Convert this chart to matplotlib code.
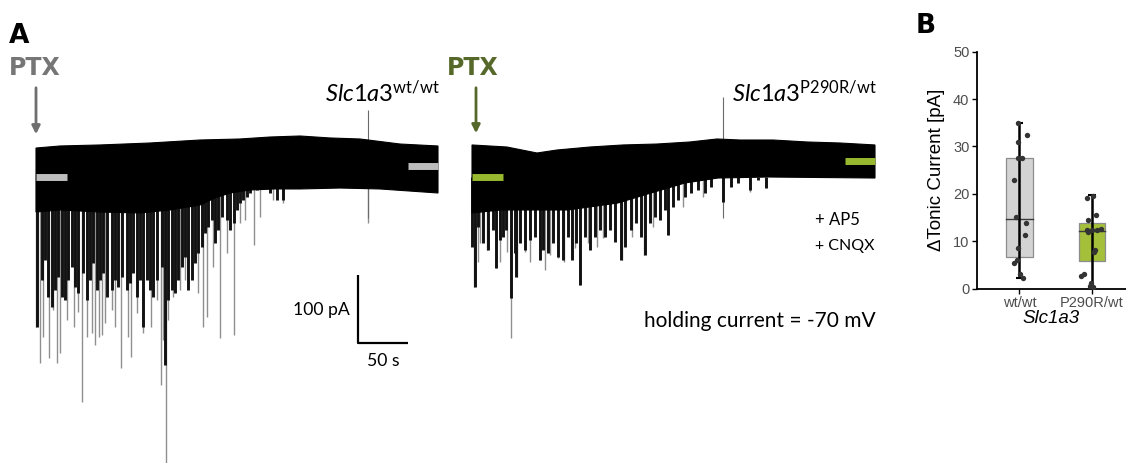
import numpy as np
import matplotlib.pyplot as plt

plt.rcParams['font.family'] = ['Lato', 'DejaVu Sans']
plt.rcParams['mathtext.fontset'] = 'custom'
plt.rcParams['mathtext.it'] = 'Lato:italic'
plt.rcParams['mathtext.rm'] = 'Lato'

# ---- panel A: traces (time in s, current in pA, 0 = holding level before PTX)
wt_top_t = [0, 24, 64, 114, 164, 204, 234, 264, 294, 324, 364, 402]
wt_top_i = [42.6, 45.6, 47.1, 50, 54.4, 55.9, 58.8, 60.3, 57.4, 55.9, 48.5, 45.6]
wt_low_t = [0, 24, 64, 104, 134, 164, 179, 194, 214, 239, 264, 304, 344, 402]
wt_low_i = [-51.5, -48.5, -51.5, -52.9, -48.5, -41.2, -30.9, -23.5, -19.1, -17.6,
            -17.6, -16.2, -17.6, -23.5]
# dense events right under the band
wt_dense_t = [0.7, 5.7, 9, 12.3, 15.7, 19, 22.3, 25.7, 29, 32.3, 35.7, 39, 42.3, 47.3,
              50.7, 54, 57.3, 60.7, 64, 67.3, 71.3, 75.7, 79, 82.3, 85.7, 90.7, 94, 97.3,
              100.7, 104, 107.3, 110.7, 114, 117.3, 120.7, 125.7, 129, 132.3, 135.7, 139,
              142.3, 145.7, 149, 152.3, 155.7, 159, 162.3, 165.7, 169, 172.3, 175.7, 179,
              182.3, 185.7, 190.7, 194, 198, 200.7, 204, 207.3, 210.7, 214, 220.7, 227.3,
              234, 240.7, 247.3]
wt_dense_i = [-220.1, -151.5, -122.1, -176, -190.7, -166.2, -146.6, -176, -180.9, -151.5,
              -131.9, -161.3, -171, -141.7, -180.9, -151.5, -127, -166.2, -151.5, -141.7,
              -176, -166.2, -151.5, -161.3, -146.6, -166.2, -156.4, -141.7, -176, -151.5,
              -220.1, -151.5, -166.2, -176, -151.5, -131.9, -276.5, -180.9, -166.2, -171,
              -151.5, -131.9, -117.2, -166.2, -151.5, -127, -112.3, -102.5, -82.8, -73,
              -63.2, -97.5, -77.9, -58.3, -63.2, -77.9, -68.1, -48.5, -38.7, -33.8, -28.9,
              -24, -19.1, -16.7, -24, -33.8, -33.8]
# long isolated events
wt_spike_t = [0, 4, 7, 13, 17, 21, 24, 31, 38, 42, 46, 51, 56, 59, 63, 66, 69, 76,
              79, 85, 92, 95, 101, 107, 115, 121, 125, 127, 130, 132, 137, 144, 149,
              156, 162, 167, 171, 177, 184, 191, 198, 204, 209, 218, 224, 237, 247, 332]
wt_spike_i = [-220.6, -273.5, -235.3, -266.2, -195.6, -273.5, -258.8, -210.3, -220.6,
              -198.5, -330.9, -235.3, -229.4, -247.1, -235.3, -232.4, -214.7, -195.6,
              -220.6, -280.9, -235.3, -264.7, -200, -229.4, -220.6, -180.9, -305.9,
              -239.7, -420.6, -210.3, -176.5, -166.2, -151.5, -117.6, -170.6, -220.6,
              -205.9, -132.4, -236.8, -111.8, -232.4, -67.6, -63.2, -100, -58.8,
              -33.8, -38.2, -67.6]
wt_artifact = (332, 98.5)
wt_level = [0, 16.2]          # mean current before / after PTX

mut_top_t = [0, 35, 65, 85, 118, 151, 185, 218, 245, 268, 301, 335, 368, 403]
mut_top_i = [47.1, 44.1, 35.3, 39.7, 44.1, 47.1, 48.5, 51.5, 55.9, 54.4, 54.4, 51.5, 50, 47.1]
mut_low_t = [0, 29, 63, 96, 146, 179, 213, 246, 296, 403]
mut_low_i = [-52.9, -48.5, -48.5, -48.5, -38.2, -23.5, -8.8, -1.5, 0, -1.5]
mut_dense_t = [0, 2.7, 6, 11, 16, 21, 24.3, 27.7, 31, 34.3, 38.7, 42.7, 44.3, 47.7, 52.7,
               57.7, 62.7, 67.7, 71, 76, 81, 86, 91, 96, 100, 104.3, 107.7, 112.7, 117.7,
               122.7, 127.7, 132.7, 137.7, 142.7, 149.3, 152.7, 159.3, 164.3, 169.3, 172.7,
               177.7, 182.7, 187.7, 192.7, 196, 201, 206, 212.7, 219.3, 226, 232.7, 239.3,
               251, 259.3, 266, 277.7, 286, 294.3]
mut_dense_i = [-102.5, -161.3, -73.1, -97.5, -107.4, -77.9, -134.3, -92.6, -87.7, -77.9,
               -178.4, -112.2, -146.6, -97.5, -107.4, -92.6, -87.7, -122.1, -107.4, -112.2,
               -97.5, -117.2, -122.1, -87.7, -122.1, -97.5, -158.8, -87.7, -107.4, -87.7,
               -77.9, -87.7, -77.9, -95.1, -122.1, -102.5, -77.9, -68.1, -87.7, -114.7,
               -68.1, -58.3, -63.2, -48.5, -85.3, -43.6, -33.8, -28.9, -24, -19.1, -24,
               -14.2, -36.3, -14.2, -9.3, -19.1, -4.4, -16.7]
mut_spike_t = [2, 6, 8, 15, 24, 28, 35, 39, 45, 53, 58, 68, 73, 78, 86, 92, 100, 103,
               108, 116, 125, 131, 150, 160, 172, 181, 196, 211, 231, 251, 278]
mut_spike_i = [-161.8, -125, -97.1, -107.4, -133.8, -125, -110.3, -236.8, -147.1,
               -110.3, -125, -122.1, -136.8, -114.7, -119.1, -125, -114.7, -104.4,
               -158.8, -97.1, -102.9, -89.7, -122.1, -88.2, -114.7, -73.5, -85.3,
               -44.1, -29.4, -36.8, -22.1]
mut_artifact = (251, 117.6)
mut_level = [0, 23.5]

# ---- panel B: delta tonic current
groups = ['wt/wt', 'P290R/wt']
wt_vals = [35.0, 32.4, 30.9, 27.6, 27.6, 22.9, 15.2, 13.8, 11.3, 8.5, 6.1, 5.4, 3.2, 2.2]
wt_jit = [-0.02, 0.10, -0.02, -0.02, 0.03, -0.08, -0.05, 0.09, 0.08, -0.02, -0.03, -0.08, 0.01, 0.05]
mut_vals = [19.1, 19.6, 14.5, 15.5, 12.4, 12.4, 12.4, 12.6, 12.0, 8.2, 7.8, 3.2, 2.7, 1.3, 0.6, 0.3]
mut_jit = [-0.07, 0.01, -0.06, 0.06, -0.07, 0.0, 0.07, 0.12, -0.06, 0.04, 0.03, -0.11, -0.15, -0.01, -0.03, 0.01]
q1 = [6.6, 5.8]
med = [14.6, 12.2]
q3 = [27.6, 13.8]
whis_lo = [2.2, 0.3]
whis_hi = [35.0, 19.8]
box_colors = ['#d3d3d3', '#a4c03b']

W, H = 1126, 463
fig = plt.figure(figsize=(W / 100, H / 100), dpi=100)


def px(x, y):
    return x / W, 1 - y / H


def draw_trace(ax, top_t, top_i, low_t, low_i, dn_t, dn_i, sp_t, sp_i, artifact, level, bar_col):
    ax.vlines(sp_t, 0, sp_i, color='#8f8f8f', lw=1.0, zorder=1)
    ax.vlines(artifact[0], -60, artifact[1], color='#6a6a6a', lw=0.8, zorder=1)
    ax.vlines(dn_t, 0, dn_i, color='#111111', lw=2.1, zorder=1.5)
    poly_t = list(top_t) + list(low_t[::-1])
    poly_i = list(top_i) + list(low_i[::-1])
    ax.fill(poly_t, poly_i, color='black', lw=0.8, zorder=2)
    end = top_t[-1]
    ax.plot([0, 31], [level[0]] * 2, color=bar_col, lw=5, solid_capstyle='butt', zorder=3)
    ax.plot([end - 30, end], [level[1]] * 2, color=bar_col, lw=5, solid_capstyle='butt', zorder=3)


ylim = (-420.6, 260.3)
ax1 = fig.add_axes([0, 0, 455 / W, 1])
ax1.set_xlim(-36, 419)
ax1.set_ylim(*ylim)
ax1.axis('off')
draw_trace(ax1, wt_top_t, wt_top_i, wt_low_t, wt_low_i, wt_dense_t, wt_dense_i,
           wt_spike_t, wt_spike_i, wt_artifact, wt_level, '#bdbdbd')
ax1.annotate('', xy=(0, 58.8), xytext=(0, 135.3),
             arrowprops=dict(arrowstyle='-|>', color='#6f6f6f', lw=2, mutation_scale=12))
# scale bar
ax1.plot([322, 322, 372], [-144.1, -244.1, -244.1], color='black', lw=1.6, solid_capstyle='butt')

ax2 = fig.add_axes([455 / W, 0, 445 / W, 1])
ax2.set_xlim(-17, 428)
ax2.set_ylim(*ylim)
ax2.axis('off')
draw_trace(ax2, mut_top_t, mut_top_i, mut_low_t, mut_low_i, mut_dense_t, mut_dense_i,
           mut_spike_t, mut_spike_i, mut_artifact, mut_level, '#98b82f')
ax2.annotate('', xy=(4, 60.3), xytext=(4, 135.3),
             arrowprops=dict(arrowstyle='-|>', color='#55682a', lw=2, mutation_scale=12))

bold = dict(family='DejaVu Sans', weight='bold')
fig.text(*px(9, 43), 'A', fontsize=19, va='baseline', **bold)
fig.text(*px(9, 75), 'PTX', fontsize=17, color='#767676', va='baseline', **bold)
fig.text(*px(447, 75), 'PTX', fontsize=17, color='#56692a', va='baseline', **bold)
fig.text(*px(916, 33), 'B', fontsize=19, va='baseline', **bold)

fig.text(*px(440, 102), r'$\mathit{Slc1a3}^{\mathrm{wt/wt}}$', fontsize=17, ha='right', va='baseline')
fig.text(*px(877, 102), r'$\mathit{Slc1a3}^{\mathrm{P290R/wt}}$', fontsize=17, ha='right', va='baseline')
fig.text(*px(815, 225), '+ AP5', fontsize=12, va='baseline')
fig.text(*px(815, 250), '+ CNQX', fontsize=11.5, va='baseline')
fig.text(*px(876, 327), 'holding current = -70 mV', fontsize=15, ha='right', va='baseline')
fig.text(*px(350, 315), '100 pA', fontsize=12.7, ha='right', va='baseline')
fig.text(*px(383, 366), '50 s', fontsize=12.7, ha='center', va='baseline')

# ---- panel B
axb = fig.add_axes([977 / W, 1 - 288.7 / H, 149 / W, (288.7 - 51.7) / H])
bw = 0.36
for k in range(2):
    axb.bar(k, q3[k] - q1[k], bottom=q1[k], width=bw, color=box_colors[k],
            edgecolor='#8c8c8c', lw=0.9, zorder=1)
    axb.plot([k - bw / 2, k + bw / 2], [med[k]] * 2, color='#3a3a3a', lw=1.0, zorder=2)
    axb.vlines(k, whis_lo[k], whis_hi[k], color='black', lw=1.8, zorder=3)
    axb.hlines([whis_lo[k], whis_hi[k]], k - 0.055, k + 0.055, color='black', lw=1.5, zorder=3)
axb.scatter(np.array(wt_jit), wt_vals, s=15, color='#333333', zorder=4, lw=0)
axb.scatter(1 + np.array(mut_jit), mut_vals, s=15, color='#333333', zorder=4, lw=0)
axb.set_xlim(-0.586, 1.469)
axb.set_ylim(0, 50)
axb.set_xticks([0, 1])
axb.set_xticklabels(groups)
axb.set_yticks([0, 10, 20, 30, 40, 50])
for s in ['top', 'right']:
    axb.spines[s].set_visible(False)
for s in ['left', 'bottom']:
    axb.spines[s].set_linewidth(1.3)
axb.tick_params(axis='both', labelsize=10.5, labelcolor='#4d4d4d', length=3.5, width=1.0,
                pad=2)
for lab in axb.get_xticklabels() + axb.get_yticklabels():
    lab.set_family('Liberation Sans')
axb.set_ylabel('ΔTonic Current [pA]', fontsize=13.5, family='Liberation Sans', labelpad=6)
axb.set_xlabel('Slc1a3', fontsize=13.5, family='Liberation Sans', style='italic', labelpad=0)

fig.savefig('out.png', dpi=100)
